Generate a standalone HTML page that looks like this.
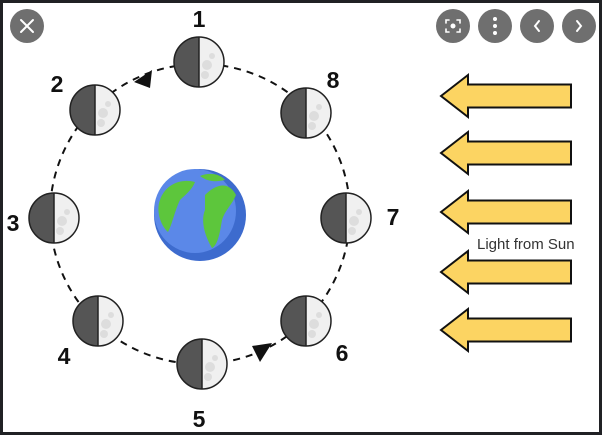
<!DOCTYPE html>
<html><head><style>
html,body{margin:0;padding:0;background:#202124;width:602px;height:435px;overflow:hidden}
svg{display:block}
</style></head><body>
<svg width="602" height="435" viewBox="0 0 602 435" xmlns="http://www.w3.org/2000/svg">
<defs>
<g id="moon">
<circle cx="0" cy="0" r="25" fill="#f0f0f0"/>
<path d="M0,-25 A25,25 0 0 0 0,25 Z" fill="#555"/>
<circle cx="8" cy="3" r="5" fill="#ddd"/><circle cx="13" cy="-6" r="3" fill="#ddd"/><circle cx="6" cy="13" r="4" fill="#ddd"/>
<line x1="0" y1="-25" x2="0" y2="25" stroke="#222" stroke-width="1.5"/>
<circle cx="0" cy="0" r="25" fill="none" stroke="#222" stroke-width="1.5"/>
</g>
<g id="arr">
<polygon points="0,0 27,-21 27,-11.5 130,-11.5 130,11.5 27,11.5 27,21" fill="#fcd462" stroke="#111" stroke-width="2" stroke-linejoin="miter"/>
</g>
</defs>
<rect x="3" y="3" width="596" height="429" fill="#fff"/>
<circle cx="200" cy="214" r="150" fill="none" stroke="#111" stroke-width="2" stroke-dasharray="7,6"/>
<polygon points="134,82 152,70 150,88" fill="#111"/>
<polygon points="272,343 252,346 260,362" fill="#111"/>
<!-- earth -->
<ellipse cx="200" cy="215" rx="46" ry="46" fill="#3d6bce"/>
<ellipse cx="195" cy="211" rx="41" ry="42" fill="#5b88e8"/>
<path d="M160,200 C165,185 180,178 195,182 C192,190 185,195 180,200 C175,210 172,225 168,232 C160,225 156,210 160,200Z" fill="#5dc63c"/>
<path d="M205,195 C215,185 228,180 236,195 C232,205 225,210 222,220 C220,232 218,245 212,248 C206,238 200,222 205,210Z" fill="#5dc63c"/>
<path d="M200,176 C210,172 220,174 225,180 C215,182 208,182 200,176Z" fill="#5dc63c"/>
<use href="#moon" x="199" y="62"/>
<use href="#moon" x="95" y="110"/>
<use href="#moon" x="306" y="113"/>
<use href="#moon" x="54" y="218"/>
<use href="#moon" x="346" y="218"/>
<use href="#moon" x="98" y="321"/>
<use href="#moon" x="306" y="321"/>
<use href="#moon" x="202" y="364"/>
<g font-family="Liberation Sans, sans-serif" font-weight="bold" font-size="23" fill="#111" text-anchor="middle">
<text x="199" y="27">1</text><text x="57" y="92">2</text><text x="333" y="88">8</text>
<text x="13" y="231">3</text><text x="393" y="225">7</text><text x="64" y="364">4</text>
<text x="342" y="361">6</text><text x="199" y="427">5</text>
</g>
<use href="#arr" x="441" y="96"/>
<use href="#arr" x="441" y="153"/>
<use href="#arr" x="441" y="212"/>
<use href="#arr" x="441" y="272"/>
<use href="#arr" x="441" y="330"/>
<text x="477" y="249" font-family="Liberation Sans, sans-serif" font-size="15" fill="#333">Light from Sun</text>
<!-- buttons -->
<g fill="#6f6f6f"><circle cx="27" cy="26" r="17"/><circle cx="453" cy="26" r="17"/><circle cx="495" cy="26" r="17"/><circle cx="537" cy="26" r="17"/><circle cx="579" cy="26" r="17"/></g>
<g stroke="#fff" stroke-width="2" fill="none" stroke-linecap="round">
<path d="M21,20 L33,32 M33,20 L21,32"/>
<path d="M539,21 L535,26 L539,31"/><path d="M577,21 L581,26 L577,31"/>
<path d="M446,23 v-3 h3 M457,20 h3 v3 M460,29 v3 h-3 M449,32 h-3 v-3" stroke-width="1.6"/>
</g>
<circle cx="453" cy="26" r="2.5" fill="#fff"/>
<g fill="#fff"><circle cx="495" cy="19" r="2"/><circle cx="495" cy="26" r="2"/><circle cx="495" cy="33" r="2"/></g>
</svg>
</body></html>
